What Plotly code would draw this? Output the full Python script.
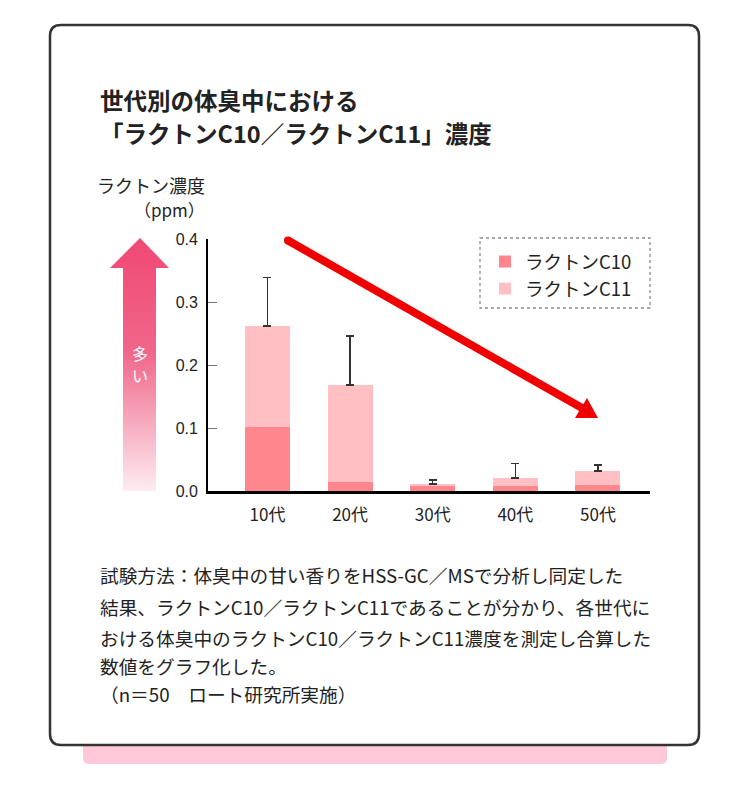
import plotly.graph_objects as go

# target canvas (reference) and page offset (body margin of the html page)
REF_W, REF_H = 750, 790
OFF = 8
W, H = REF_W - 2 * OFF, REF_H - 2 * OFF

# ---- data ----
categories = ["10代", "20代", "30代", "40代", "50代"]
lactone_c10 = [0.102, 0.015, 0.008, 0.008, 0.010]
lactone_c11 = [0.160, 0.153, 0.003, 0.013, 0.022]
error_upper = [0.077, 0.078, 0.0065, 0.023, 0.009]
y_ticks = [0.0, 0.1, 0.2, 0.3, 0.4]
y_tick_labels = ["0.0", "0.1", "0.2", "0.3", "0.4"]

title_lines = ["世代別の体臭中における", "「ラクトンC10／ラクトンC11」濃度"]
ylabel_lines = ["ラクトン濃度", "（ppm）"]
arrow_label_chars = ["多", "い"]
note_lines = [
    "試験方法：体臭中の甘い香りをHSS-GC／MSで分析し同定した",
    "結果、ラクトンC10／ラクトンC11であることが分かり、各世代に",
    "おける体臭中のラクトンC10／ラクトンC11濃度を測定し合算した",
    "数値をグラフ化した。",
    "（n＝50　ロート研究所実施）",
]

FONT = "Noto Sans CJK JP, Noto Sans, sans-serif"
C10_COLOR = "#ff868c"
C11_COLOR = "#ffbfc3"


def px(x, y):
    return (x - OFF) / W, 1 - (y - OFF) / H


def P(x, y):
    X, Y = px(x, y)
    return f"{X:.5f},{Y:.5f}"


def path_paper(points):
    s = ""
    for i, (x, y) in enumerate(points):
        s += ("M" if i == 0 else "L") + P(x, y) + " "
    return s + "Z"


def rounded_rect(x0, y0, x1, y1, r, top=True, bottom=True):
    rt = r if top else 0
    rb = r if bottom else 0
    s = f"M{P(x0 + rt, y0)} L{P(x1 - rt, y0)} "
    if rt:
        s += f"Q{P(x1, y0)} {P(x1, y0 + rt)} "
    s += f"L{P(x1, y1 - rb)} "
    if rb:
        s += f"Q{P(x1, y1)} {P(x1 - rb, y1)} "
    s += f"L{P(x0 + rb, y1)} "
    if rb:
        s += f"Q{P(x0, y1)} {P(x0, y1 - rb)} "
    s += f"L{P(x0, y0 + rt)} "
    if rt:
        s += f"Q{P(x0, y0)} {P(x0 + rt, y0)} "
    return s + "Z"


fig = go.Figure()

# ---- bars ----
fig.add_trace(go.Bar(
    x=categories, y=lactone_c10, name="ラクトンC10",
    marker=dict(color=C10_COLOR, line=dict(width=0)),
    width=0.545, xaxis="x", yaxis="y",
))
fig.add_trace(go.Bar(
    x=categories, y=lactone_c11, name="ラクトンC11",
    marker=dict(color=C11_COLOR, line=dict(width=0)),
    width=0.545, xaxis="x", yaxis="y",
    error_y=dict(type="data", symmetric=False, array=error_upper,
                 arrayminus=[0] * len(error_upper),
                 color="#333333", thickness=1.5, width=4),
))

# ---- decoration traces in reference-pixel space (x2/y2) ----
arrow_pts = [(140, 238), (169, 268), (156, 268), (156, 491), (123, 491),
             (123, 268), (110, 268), (140, 238)]
fig.add_trace(go.Scatter(
    x=[p[0] for p in arrow_pts], y=[p[1] for p in arrow_pts],
    mode="lines", fill="toself", line=dict(width=0, color="rgba(0,0,0,0)"),
    fillgradient=dict(type="vertical",
                      colorscale=[[0, "#fdecf1"], [0.55, "#f0668a"],
                                  [1, "#f04874"]]),
    xaxis="x2", yaxis="y2", showlegend=False, hoverinfo="skip",
))
fig.add_trace(go.Scatter(
    x=[288, 582], y=[240.5, 408], mode="lines",
    line=dict(color="#f00000", width=8),
    xaxis="x2", yaxis="y2", showlegend=False, hoverinfo="skip",
))
fig.add_trace(go.Scatter(
    x=[288], y=[240.5], mode="markers",
    marker=dict(color="#f00000", size=8, line=dict(width=0)),
    xaxis="x2", yaxis="y2", showlegend=False, hoverinfo="skip",
))
head = [(598, 418), (575, 418), (587, 398), (598, 418)]
fig.add_trace(go.Scatter(
    x=[p[0] for p in head], y=[p[1] for p in head], mode="lines",
    fill="toself", fillcolor="#f00000", line=dict(width=0, color="#f00000"),
    xaxis="x2", yaxis="y2", showlegend=False, hoverinfo="skip",
))

# ---- shapes ----
shapes = [
    dict(type="path", xref="paper", yref="paper", layer="below",
         path=rounded_rect(83, 735, 667, 764, 6, top=False, bottom=True),
         fillcolor="#ffc9d9", line=dict(width=0)),
    dict(type="path", xref="paper", yref="paper", layer="below",
         path=rounded_rect(50, 25, 699, 745, 11),
         fillcolor="white", line=dict(color="#333333", width=2.5)),
    dict(type="path", xref="paper", yref="paper", layer="below",
         path=path_paper([(480, 238), (650, 238), (650, 308), (480, 308)]),
         fillcolor="white", line=dict(color="#8a8a8a", width=1.3, dash="dot")),
]

# ---- annotations ----
ann = []
for i, t in enumerate(title_lines):
    X, Y = px(98, 100 + 33 * i)
    ann.append(dict(text=f"<b>{t}</b>", x=X, y=Y, xref="paper", yref="paper",
                    xanchor="left", yanchor="middle", showarrow=False,
                    font=dict(family=FONT, size=23.5, color="#222222")))
ylabel_sizes = [18, 17]
for i, t in enumerate(ylabel_lines):
    X, Y = px(207, 185 + 24 * i)
    ann.append(dict(text=t, x=X, y=Y, xref="paper", yref="paper",
                    xanchor="right", yanchor="middle", showarrow=False,
                    font=dict(family=FONT, size=ylabel_sizes[i], color="#222222")))
note_y = [574, 606, 637, 665, 693]
for t, yy in zip(note_lines, note_y):
    X, Y = px(98, yy)
    ann.append(dict(text=t, x=X, y=Y, xref="paper", yref="paper",
                    xanchor="left", yanchor="middle", showarrow=False,
                    font=dict(family=FONT, size=18.7, color="#222222")))
for i, ch in enumerate(arrow_label_chars):
    X, Y = px(140, 353 + 22 * i)
    ann.append(dict(text=ch, x=X, y=Y, xref="paper", yref="paper",
                    xanchor="center", yanchor="middle", showarrow=False,
                    font=dict(family=FONT, size=16, color="white")))

x0d, y0d = px(208, 491)
x1d, y1d = px(650, 239)
lx, ly = px(485, 243)

fig.update_layout(
    width=W, height=H,
    margin=dict(l=0, r=0, t=0, b=0, autoexpand=False),
    paper_bgcolor="white", plot_bgcolor="rgba(0,0,0,0)",
    barmode="stack", bargap=0.4,
    font=dict(family=FONT, color="#222222"),
    shapes=shapes, annotations=ann,
    showlegend=True,
    legend=dict(x=lx, y=ly, xanchor="left", yanchor="top",
                traceorder="normal", bgcolor="rgba(0,0,0,0)", borderwidth=0,
                font=dict(family=FONT, size=18.5, color="#222222"),
                itemclick=False, tracegroupgap=0),
    xaxis=dict(domain=[x0d, x1d], anchor="y", range=[-0.72, 4.63],
               showline=True, linecolor="black", linewidth=3,
               showgrid=False, zeroline=False, ticks="",
               tickfont=dict(family=FONT, size=17, color="#222222"),
               ticklabelstandoff=7, fixedrange=True, automargin=False),
    yaxis=dict(domain=[y0d, y1d], anchor="x", range=[0, 0.4],
               tickvals=y_ticks, ticktext=y_tick_labels,
               showline=True, linecolor="black", linewidth=1.8,
               showgrid=False, zeroline=False,
               ticks="inside", ticklen=9, tickcolor="#777777", tickwidth=1,
               tickfont=dict(family="Liberation Sans, Arial, sans-serif", size=16,
                             color="#222222"),
               ticklabelstandoff=5, fixedrange=True, automargin=False),
    xaxis2=dict(domain=[0, 1], anchor="y2", range=[OFF, OFF + W], visible=False,
                fixedrange=True, automargin=False),
    yaxis2=dict(domain=[0, 1], anchor="x2", range=[OFF + H, OFF], visible=False,
                fixedrange=True, automargin=False),
)

fig.write_html("out.html")
